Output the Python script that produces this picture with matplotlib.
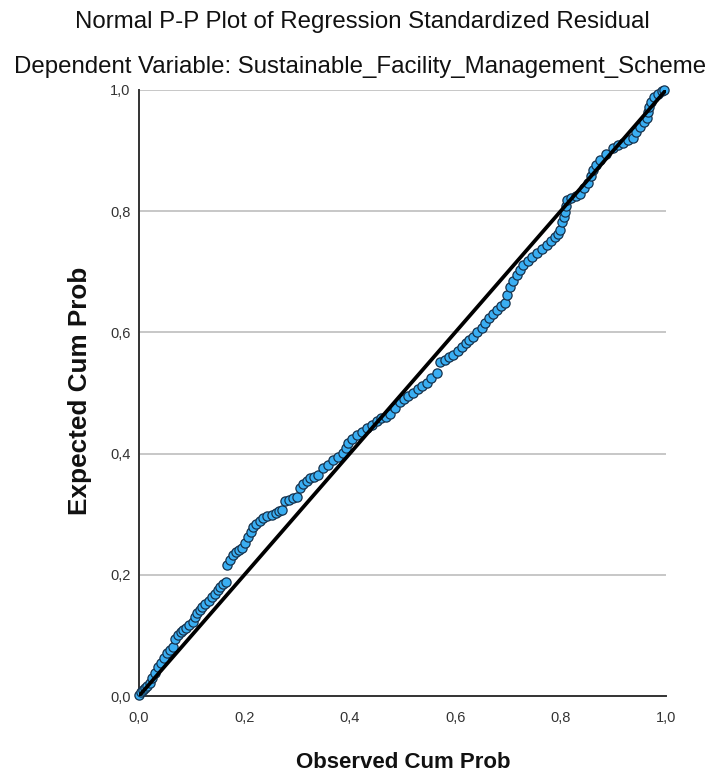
import matplotlib
matplotlib.use("Agg")
import matplotlib.pyplot as plt

# Observed / expected cumulative probabilities
observed = [0.000, 0.004, 0.008, 0.012, 0.016, 0.021, 0.025, 0.030, 0.036, 0.041,
            0.047, 0.053, 0.059, 0.065, 0.068, 0.074, 0.079, 0.083, 0.089, 0.095,
            0.102, 0.106, 0.110, 0.115, 0.120, 0.126, 0.132, 0.139, 0.144, 0.149,
            0.154, 0.160, 0.165, 0.167, 0.172, 0.178, 0.184, 0.190, 0.195, 0.201,
            0.207, 0.212, 0.216, 0.222, 0.229, 0.235, 0.243, 0.252, 0.260, 0.266,
            0.271, 0.277, 0.284, 0.292, 0.300, 0.306, 0.312, 0.318, 0.324, 0.332,
            0.340, 0.349, 0.358, 0.368, 0.377, 0.387, 0.392, 0.397, 0.405, 0.414,
            0.423, 0.433, 0.442, 0.452, 0.460, 0.468, 0.476, 0.485, 0.495, 0.503,
            0.511, 0.520, 0.529, 0.537, 0.546, 0.555, 0.565, 0.571, 0.580, 0.588,
            0.596, 0.605, 0.613, 0.620, 0.627, 0.634, 0.642, 0.650, 0.657, 0.665,
            0.672, 0.679, 0.687, 0.694, 0.699, 0.704, 0.710, 0.717, 0.723, 0.729,
            0.738, 0.746, 0.755, 0.765, 0.774, 0.782, 0.789, 0.795, 0.799, 0.803,
            0.806, 0.808, 0.810, 0.812, 0.820, 0.829, 0.837, 0.845, 0.852, 0.857,
            0.861, 0.868, 0.875, 0.887, 0.899, 0.908, 0.918, 0.928, 0.937, 0.944,
            0.951, 0.958, 0.964, 0.966, 0.968, 0.972, 0.977, 0.985, 0.992, 0.997]
expected = [0.002, 0.006, 0.010, 0.013, 0.017, 0.022, 0.030, 0.038, 0.048, 0.054,
            0.062, 0.071, 0.076, 0.081, 0.094, 0.100, 0.105, 0.109, 0.113, 0.117,
            0.122, 0.130, 0.137, 0.142, 0.147, 0.152, 0.157, 0.163, 0.169, 0.175,
            0.180, 0.184, 0.188, 0.216, 0.224, 0.233, 0.237, 0.241, 0.244, 0.253,
            0.262, 0.271, 0.279, 0.284, 0.289, 0.294, 0.297, 0.299, 0.302, 0.305,
            0.307, 0.322, 0.324, 0.326, 0.328, 0.344, 0.350, 0.355, 0.360, 0.362,
            0.364, 0.376, 0.382, 0.389, 0.395, 0.401, 0.409, 0.417, 0.424, 0.431,
            0.436, 0.442, 0.448, 0.454, 0.458, 0.461, 0.465, 0.475, 0.485, 0.490,
            0.495, 0.500, 0.506, 0.511, 0.516, 0.524, 0.533, 0.551, 0.555, 0.559,
            0.563, 0.570, 0.576, 0.582, 0.587, 0.592, 0.600, 0.608, 0.616, 0.623,
            0.630, 0.637, 0.643, 0.649, 0.662, 0.675, 0.685, 0.695, 0.703, 0.711,
            0.718, 0.725, 0.731, 0.738, 0.744, 0.750, 0.757, 0.763, 0.769, 0.782,
            0.790, 0.799, 0.808, 0.818, 0.821, 0.825, 0.828, 0.838, 0.847, 0.858,
            0.868, 0.876, 0.884, 0.894, 0.904, 0.909, 0.913, 0.917, 0.921, 0.930,
            0.939, 0.947, 0.954, 0.963, 0.972, 0.980, 0.988, 0.994, 0.998, 1.000]
ticks = [0.0, 0.2, 0.4, 0.6, 0.8, 1.0]
tick_labels = ["0,0", "0,2", "0,4", "0,6", "0,8", "1,0"]

plt.rcParams["font.family"] = ["Liberation Sans", "DejaVu Sans"]

W, H = 712, 778
fig = plt.figure(figsize=(W / 100, H / 100), dpi=100)
ax = fig.add_axes([139 / W, 82 / H, 527 / W, 606 / H])

#grille horizontale grise
for t in ticks[1:]:
    ax.axhline(t, color="#bdbdbd", lw=1.2, zorder=1)

ax.scatter(observed, expected, s=44, facecolor="#3aaef2", edgecolor="#16324d",
           linewidth=0.9, zorder=3, clip_on=False)
ax.plot([0, 1], [0, 1], color="black", lw=2.7, zorder=4, solid_capstyle="butt")

ax.set_xlim(0, 1)
ax.set_ylim(0, 1)
ax.set_xticks(ticks)
ax.set_xticklabels(tick_labels)
ax.set_yticks(ticks)
ax.set_yticklabels(tick_labels)
ax.tick_params(length=0, labelsize=10.5, labelcolor="#333333")
ax.tick_params(axis="x", pad=11)
ax.tick_params(axis="y", pad=6)
for side in ["top", "right"]:
    ax.spines[side].set_visible(False)
for side in ["left", "bottom"]:
    ax.spines[side].set_color("#333333")
    ax.spines[side].set_linewidth(1.4)

#titres et labels des axes
fig.text(403 / W, 1 - 762 / H, "Observed Cum Prob", ha="center", va="center",
         fontsize=16, fontweight="bold", color="#111111")
fig.text(80 / W, 1 - 391 / H, "Expected Cum Prob", ha="center", va="center",
         rotation=90, fontsize=18.8, fontweight="bold", color="#111111")

fig.text(362 / W, 1 - 22 / H, "Normal P-P Plot of Regression Standardized Residual",
         ha="center", va="center", fontsize=17.3, color="#111111")
fig.text(360 / W, 1 - 67 / H, "Dependent Variable: Sustainable_Facility_Management_Scheme",
         ha="center", va="center", fontsize=17.3, color="#111111")

fig.savefig("out.png", dpi=100)
